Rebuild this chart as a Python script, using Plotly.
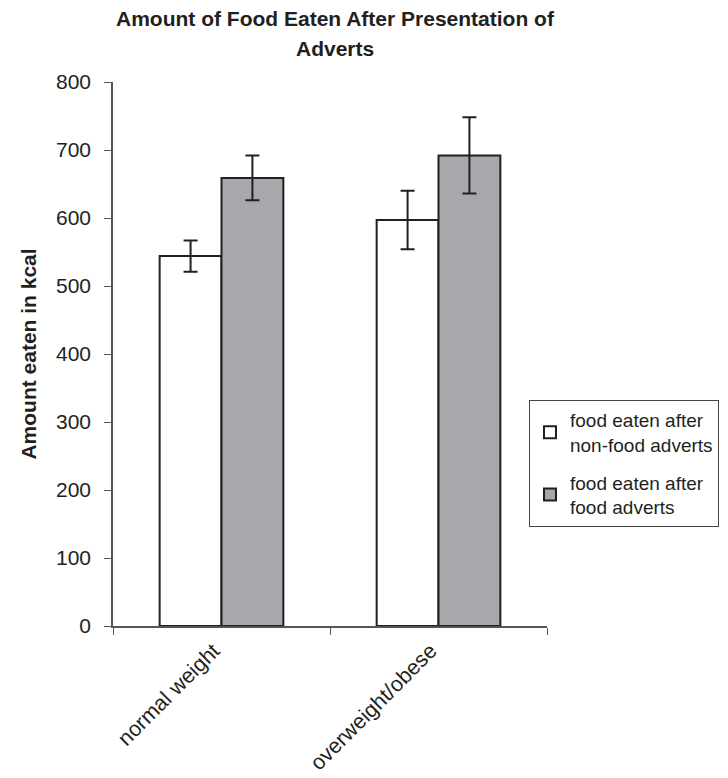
import plotly.graph_objects as go

categories = ["normal weight", "overweight/obese"]
series_names = ["food eaten after<br>non-food adverts", "food eaten after<br>food adverts"]
nonfood_values = [544, 597]
nonfood_err = [23, 43]
food_values = [659, 692]
food_err = [33, 56]
y_ticks = [0, 100, 200, 300, 400, 500, 600, 700, 800]
title_lines = ["Amount of Food Eaten After Presentation of", "Adverts"]

FONT = "Liberation Sans, Arial, sans-serif"
INK = "#231f20"

fig = go.Figure()
fig.add_trace(go.Bar(
    x=categories, y=nonfood_values, name=series_names[0], legendgroup="nonfood",
    marker=dict(color="white", line=dict(color=INK, width=2)),
    error_y=dict(type="data", array=nonfood_err, color=INK, thickness=2, width=7),
))
fig.add_trace(go.Bar(
    x=categories, y=food_values, name=series_names[1], legendgroup="food",
    marker=dict(color="#a7a8ab", line=dict(color=INK, width=2)),
    error_y=dict(type="data", array=food_err, color=INK, thickness=2, width=7),
))

fig.add_annotation(text="<b>%s</b>" % title_lines[0], xref="paper", yref="paper",
                   x=0.512, y=1.1176, xanchor="center", yanchor="middle",
                   showarrow=False, font=dict(family=FONT, size=21, color=INK))
fig.add_annotation(text="<b>%s</b>" % title_lines[1], xref="paper", yref="paper",
                   x=0.512, y=1.0625, xanchor="center", yanchor="middle",
                   showarrow=False, font=dict(family=FONT, size=21, color=INK))

fig.update_layout(
    width=720, height=770,
    margin=dict(l=105, r=181, t=74, b=152, autoexpand=False),
    paper_bgcolor="white", plot_bgcolor="white",
    barmode="group", bargap=0.43, bargroupgap=0,
    font=dict(family=FONT, size=21, color=INK),
    showlegend=True,
    legend=dict(
        x=0.9585, xanchor="left", y=0.4154, yanchor="top",
        bordercolor="#444", borderwidth=1,
        font=dict(family=FONT, size=19, color=INK),
        tracegroupgap=10,
    ),
    xaxis=dict(
        showline=True, linecolor="#555", linewidth=1.5,
        ticks="outside", tickson="boundaries", ticklen=7, tickcolor="#555",
        tickangle=-45, tickfont=dict(size=21.5),
        ticklabelshift=-8, ticklabelstandoff=2,
        showgrid=False,
    ),
    yaxis=dict(
        range=[0, 800], tickvals=y_ticks,
        showline=True, linecolor="#555", linewidth=1.5,
        ticks="outside", ticklen=7, tickcolor="#555",
        ticklabelstandoff=9,
        showgrid=False, zeroline=False,
        title=dict(text="<b>Amount eaten in kcal</b>", font=dict(size=21), standoff=14),
        tickfont=dict(size=21),
    ),
)

fig.write_html("out.html")
